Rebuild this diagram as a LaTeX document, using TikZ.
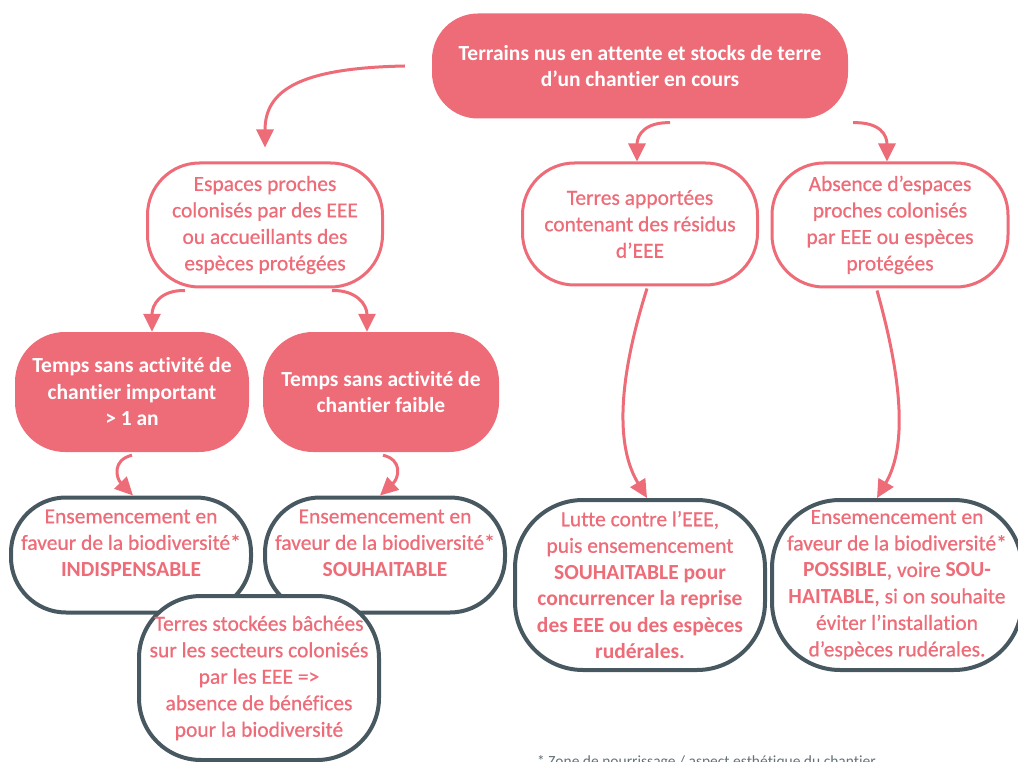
\documentclass[tikz,border=0pt]{standalone}
\usepackage{fontspec}
\setmainfont{Carlito}[Ligatures={NoCommon,NoContextual}, Contextuals=NoAlternate, UprightFeatures={FakeBold=0.6}]
\newfontfamily\notefont{Carlito}[Ligatures={NoCommon,NoContextual}, Contextuals=NoAlternate]
\usepackage{xcolor}
\usepackage{tikz}
\usetikzlibrary{positioning,calc,arrows.meta}
\definecolor{EEEPink}{RGB}{237,108,120}
\definecolor{EEEGrey}{RGB}{72,88,96}

\begin{document}
\begin{tikzpicture}[x=1pt, y=-1pt,
    % Style des boites
    fillbox/.style={rectangle, rounded corners=50pt, fill=EEEPink, text=white, align=center, inner sep=0pt, font=\bfseries\fontsize{21.5}{26.5}\selectfont},
    pinkbox/.style={rectangle, rounded corners=52pt, draw=EEEPink, line width=3pt, fill=white, text=EEEPink, align=center, inner sep=0pt, font=\fontsize{21.5}{26.5}\selectfont},
    greybox/.style={rectangle, rounded corners=55pt, draw=EEEGrey, line width=4pt, fill=white, text=EEEPink, align=center, inner sep=0pt, font=\fontsize{21.5}{26.5}\selectfont},
    greytext/.style={text=EEEPink, align=center, inner sep=0pt, font=\fontsize{21.5}{26.5}\selectfont},
    % Style des fleches
    arrowedge/.style={-{Triangle[length=18pt, width=17pt]}, draw=EEEPink, line width=3pt},
    % Note
    notelabel/.style={text=EEEGrey!85, font=\notefont\fontsize{15.5}{17}\selectfont, anchor=base west, inner sep=0pt}
]
\useasboundingbox (0,0) rectangle (1018,762);

% --- NIVEAU 1 ---
\node[fillbox, minimum width=416pt, minimum height=105pt, rounded corners=46pt] (top) at (640,66)
    {Terrains nus en attente et stocks de terre\\ d’un chantier en cours};

% --- NIVEAU 2 ---
\node[pinkbox, minimum width=235pt, minimum height=124pt] (espaces) at (265,225)
    {Espaces proches\\ colonisés par des EEE\\ ou accueillants des\\ espèces protégées};
\node[pinkbox, minimum width=235pt, minimum height=122pt] (terres) at (640,224)
    {Terres apportées\\ contenant des résidus\\ d’EEE};
\node[pinkbox, minimum width=236pt, minimum height=124pt] (absence) at (890,225)
    {Absence d’espaces\\ proches colonisés\\ par EEE ou espèces\\ protégées};

% --- NIVEAU 3 ---
\node[fillbox, minimum width=234pt, minimum height=120pt] (temps1) at (132,392)
    {Temps sans activité de\\ chantier important\\ > 1 an};
\node[fillbox, minimum width=236pt, minimum height=120pt] (temps2) at (381,392)
    {Temps sans activité de\\ chantier faible};

% --- NIVEAU 4 ---
\node[greybox, minimum width=240pt, minimum height=115pt] (ens1) at (131,555) {};
\node[greytext] (ens1txt) at (131,543)
    {Ensemencement en\\ faveur de la biodiversité*\\ \textbf{INDISPENSABLE}};
\node[greybox, minimum width=240pt, minimum height=115pt] (ens2) at (385,555) {};
\node[greytext] (ens2txt) at (385,543)
    {Ensemencement en\\ faveur de la biodiversité*\\ \textbf{SOUHAITABLE}};
\node[greybox, minimum width=240pt, minimum height=164pt, rounded corners=62pt] (stock) at (259,678)
    {Terres stockées bâchées\\ sur les secteurs colonisés\\ par les EEE =>\\ absence de bénéfices\\ pour la biodiversité};
\node[greybox, minimum width=250pt, minimum height=170pt, rounded corners=68pt] (lutte) at (640,585)
    {Lutte contre l’EEE,\\ puis ensemencement\\ \textbf{SOUHAITABLE pour}\\ \textbf{concurrencer la reprise}\\ \textbf{des EEE ou des espèces}\\ \textbf{rudérales.}};
\node[greybox, minimum width=250pt, minimum height=170pt, rounded corners=68pt] (possible) at (897,585)
    {Ensemencement en\\ faveur de la biodiversité*\\ \textbf{POSSIBLE}, voire \textbf{SOU-}\\ \textbf{HAITABLE}, si on souhaite\\ éviter l’installation\\ d’espèces rudérales.};

% --- FLECHES ---
\coordinate (start1) at ([xshift=-27pt]top.west);
\draw[arrowedge] (start1) .. controls (300,68) and (265,90) .. ([yshift=14pt]espaces.north);
\draw[arrowedge] ([xshift=30pt,yshift=-4pt]top.south) .. controls (645,122) and (637,135) .. ([xshift=-3pt]terres.north);
\draw[arrowedge] ([xshift=5pt,yshift=-4pt]top.south east) .. controls (880,122) and (887,135) .. ([xshift=-3pt]absence.north);

\draw[arrowedge] ([xshift=-80pt,yshift=-2pt]espaces.south) .. controls (160,290) and (152,305) .. ([xshift=20pt]temps1.north);
\draw[arrowedge] ([xshift=67pt,yshift=-2pt]espaces.south) .. controls (357,290) and (367,305) .. ([xshift=-14pt]temps2.north);

\draw[arrowedge] ([yshift=-3pt]temps1.south) .. controls (112,460) and (116,478) .. ([xshift=2pt]ens1.north);
\draw[arrowedge] ([xshift=2pt,yshift=-3pt]temps2.south) .. controls (403,460) and (399,478) .. ([xshift=-5pt]ens2.north);

\draw[arrowedge] ([xshift=7pt,yshift=-2pt]terres.south) .. controls (615,390) and (618,450) .. ([xshift=7pt]lutte.north);
\draw[arrowedge] ([xshift=-13pt,yshift=-2pt]absence.south) .. controls (905,390) and (905,450) .. ([xshift=-20pt]possible.north);

% --- NOTE ---
\node[notelabel] (note) at (537,766) {* Zone de nourrissage / aspect esthétique du chantier};

\end{tikzpicture}
\end{document}
